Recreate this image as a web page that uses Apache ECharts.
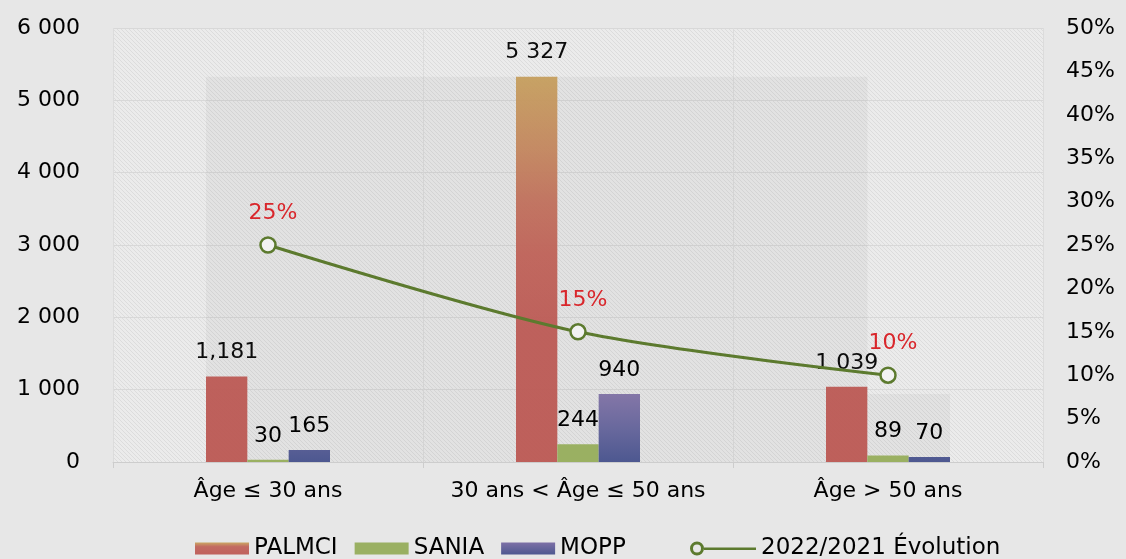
<!DOCTYPE html>
<html lang="fr" style="height: 100%">

<head>
  <meta charset="utf-8" />
</head>

<body style="height: 100%; margin: 0; background: #e7e7e7">
  <div id="container" style="height: 100%"></div>

  <script type="text/javascript" src="https://fastly.jsdelivr.net/npm/echarts@6/dist/echarts.min.js"></script>

  <script type="text/javascript">
    var categories = ["Âge ≤ 30 ans", "30 ans < Âge ≤ 50 ans", "Âge > 50 ans"];
    var palmci = [1181, 5327, 1039];
    var sania = [30, 244, 89];
    var mopp = [165, 940, 70];
    var evolution = [0.25, 0.15, 0.10];
    var palmciLabels = ["1,181", "5 327", "1 039"];
    var saniaLabels = ["30", "244", "89"];
    var moppLabels = ["165", "940", "70"];
    var evolutionLabels = ["25%", "15%", "10%"];
    // grey shading behind the bars: [first cat, last cat, first slot, last slot, height]
    var shades = [[0, 2, 0, 0, 5327], [2, 2, 1, 2, 940]];

    var FONT = "DejaVu Sans";
    var FS = 22;
    var GREEN = "#5c7a2e";

    // diagonal hatching of the plot area
    function hatch() {
      var c = document.createElement("canvas");
      c.width = 4;
      c.height = 4;
      var g = c.getContext("2d");
      g.fillStyle = "#ebebeb";
      g.fillRect(0, 0, 4, 4);
      g.strokeStyle = "#dcdcdc";
      g.lineWidth = 1;
      g.beginPath();
      g.moveTo(-1, -1); g.lineTo(5, 5);
      g.moveTo(3, -1); g.lineTo(5, 1);
      g.moveTo(-1, 3); g.lineTo(1, 5);
      g.stroke();
      return c;
    }

    var dom = document.getElementById("container");
    var myChart = echarts.init(dom, null, { renderer: "canvas" });

    var labelStyle = {
      show: true,
      position: "top",
      distance: 13,
      fontFamily: FONT,
      fontSize: FS,
      color: "#000",
    };

    function withLabels(values, labels) {
      return values.map(function (v, i) {
        return { value: v, label: { formatter: labels[i] } };
      });
    }

    var legendText = { fontFamily: FONT, fontSize: 23, color: "#000" };

    var option = {
      backgroundColor: "transparent",
      animation: false,
      textStyle: { fontFamily: FONT },
      grid: {
        left: 113,
        right: 83,
        top: 28,
        bottom: 97,
        show: true,
        borderWidth: 0,
        backgroundColor: { image: hatch(), repeat: "repeat" },
      },
      legend: [
        {
          left: 190,
          top: 532,
          itemGap: 17,
          itemWidth: 54,
          itemHeight: 12,
          textStyle: legendText,
          data: [
            {
              name: "PALMCI",
              icon: "rect",
              itemStyle: {
                color: {
                  type: "linear", x: 0, y: 0, x2: 0, y2: 1,
                  colorStops: [
                    { offset: 0, color: "#c9a25c" },
                    { offset: 0.35, color: "#c0635a" },
                    { offset: 1, color: "#bd5a55" },
                  ],
                },
              },
            },
            { name: "SANIA", icon: "rect", itemStyle: { color: "#9ab062" } },
            {
              name: "MOPP",
              icon: "rect",
              itemStyle: {
                color: {
                  type: "linear", x: 0, y: 0, x2: 0, y2: 1,
                  colorStops: [
                    { offset: 0, color: "#7d70a6" },
                    { offset: 1, color: "#4e5890" },
                  ],
                },
              },
            },
          ],
        },
        {
          left: 685,
          top: 532,
          itemWidth: 66,
          itemHeight: 14,
          textStyle: legendText,
          data: [
            {
              name: "2022/2021 Évolution",
              icon:
                "path://M0,7A7,7,0,1,1,14,7A7,7,0,1,1,0,7ZM3,7A4,4,0,1,0,11,7A4,4,0,1,0,3,7ZM14,6L66,6L66,8.5L14,8.5Z",
              itemStyle: { color: GREEN, borderWidth: 0 },
            },
          ],
        },
      ],
      xAxis: {
        type: "category",
        data: categories,
        axisLine: { lineStyle: { color: "#cdcdcd", width: 1 } },
        axisTick: { show: true, interval: 0, length: 6, lineStyle: { color: "#cdcdcd" } },
        splitLine: { show: true, interval: 0, lineStyle: { color: "#dcdcdc" } },
        axisLabel: {
          interval: 0,
          margin: 18,
          fontFamily: FONT,
          fontSize: FS,
          color: "#000",
        },
      },
      yAxis: [
        {
          type: "value",
          min: 0,
          max: 6000,
          interval: 1000,
          axisLine: { show: false },
          axisTick: { show: false },
          splitLine: { lineStyle: { color: "#d8d8d8" } },
          axisLabel: {
            margin: 33,
            fontFamily: FONT,
            fontSize: FS,
            color: "#000",
            formatter: function (v) {
              return String(v).replace(/\B(?=(\d{3})+(?!\d))/g, " ");
            },
          },
        },
        {
          type: "value",
          min: 0,
          max: 0.5,
          interval: 0.05,
          axisLine: { show: false },
          axisTick: { show: false },
          splitLine: { show: false },
          axisLabel: {
            margin: 23,
            fontFamily: FONT,
            fontSize: FS,
            color: "#000",
            formatter: function (v) {
              return Math.round(v * 100) + "%";
            },
          },
        },
      ],
      series: [
        {
          name: "shade",
          type: "custom",
          z: 1,
          silent: true,
          encode: { x: 0, y: 4 },
          data: shades,
          renderItem: function (params, api) {
            var band = api.size([1, 0])[0];
            var barW = (band * 0.4) / 3;
            var x0 = api.coord([api.value(0), 0])[0] - band * 0.2 + api.value(2) * barW;
            var x1 = api.coord([api.value(1), 0])[0] - band * 0.2 + (api.value(3) + 1) * barW;
            var yTop = api.coord([0, api.value(4)])[1];
            var yBottom = api.coord([0, 0])[1];
            return {
              type: "rect",
              shape: { x: x0, y: yTop, width: x1 - x0, height: yBottom - yTop },
              style: { fill: "rgba(110,110,110,0.07)" },
            };
          },
        },
        {
          name: "PALMCI",
          type: "bar",
          z: 2,
          barGap: "0%",
          barCategoryGap: "60%",
          data: withLabels(palmci, palmciLabels),
          label: labelStyle,
          itemStyle: {
            opacity: 0.95,
            color: {
              type: "linear", x: 0, y: 28, x2: 0, y2: 462, global: true,
              colorStops: [
                { offset: 0.1, color: "#c6a15e" },
                { offset: 0.28, color: "#c3865e" },
                { offset: 0.4, color: "#c0705c" },
                { offset: 0.52, color: "#bf6258" },
                { offset: 0.7, color: "#bc5a55" },
                { offset: 1, color: "#bc5954" },
              ],
            },
          },
        },
        {
          name: "SANIA",
          type: "bar",
          z: 2,
          barGap: "0%",
          barCategoryGap: "60%",
          data: withLabels(sania, saniaLabels),
          label: labelStyle,
          itemStyle: { color: "#9ab062" },
        },
        {
          name: "MOPP",
          type: "bar",
          z: 2,
          barGap: "0%",
          barCategoryGap: "60%",
          data: withLabels(mopp, moppLabels),
          label: labelStyle,
          itemStyle: {
            color: {
              type: "linear", x: 0, y: 28, x2: 0, y2: 462, global: true,
              colorStops: [
                { offset: 0.84, color: "#8577a8" },
                { offset: 0.93, color: "#66679c" },
                { offset: 1, color: "#4d5890" },
              ],
            },
          },
        },
        {
          name: "2022/2021 Évolution",
          type: "line",
          yAxisIndex: 1,
          z: 5,
          smooth: 0.3,
          data: withLabels(evolution, evolutionLabels),
          symbol: "circle",
          symbolSize: 15,
          lineStyle: { color: GREEN, width: 3 },
          itemStyle: { color: "#f2f2f2", borderColor: GREEN, borderWidth: 2.5 },
          label: {
            show: true,
            position: "top",
            distance: 12,
            offset: [5, 0],
            fontFamily: FONT,
            fontSize: FS,
            color: "#d9262b",
          },
        },
      ],
    };

    myChart.setOption(option);
    window.addEventListener("resize", myChart.resize);
  </script>
</body>

</html>
